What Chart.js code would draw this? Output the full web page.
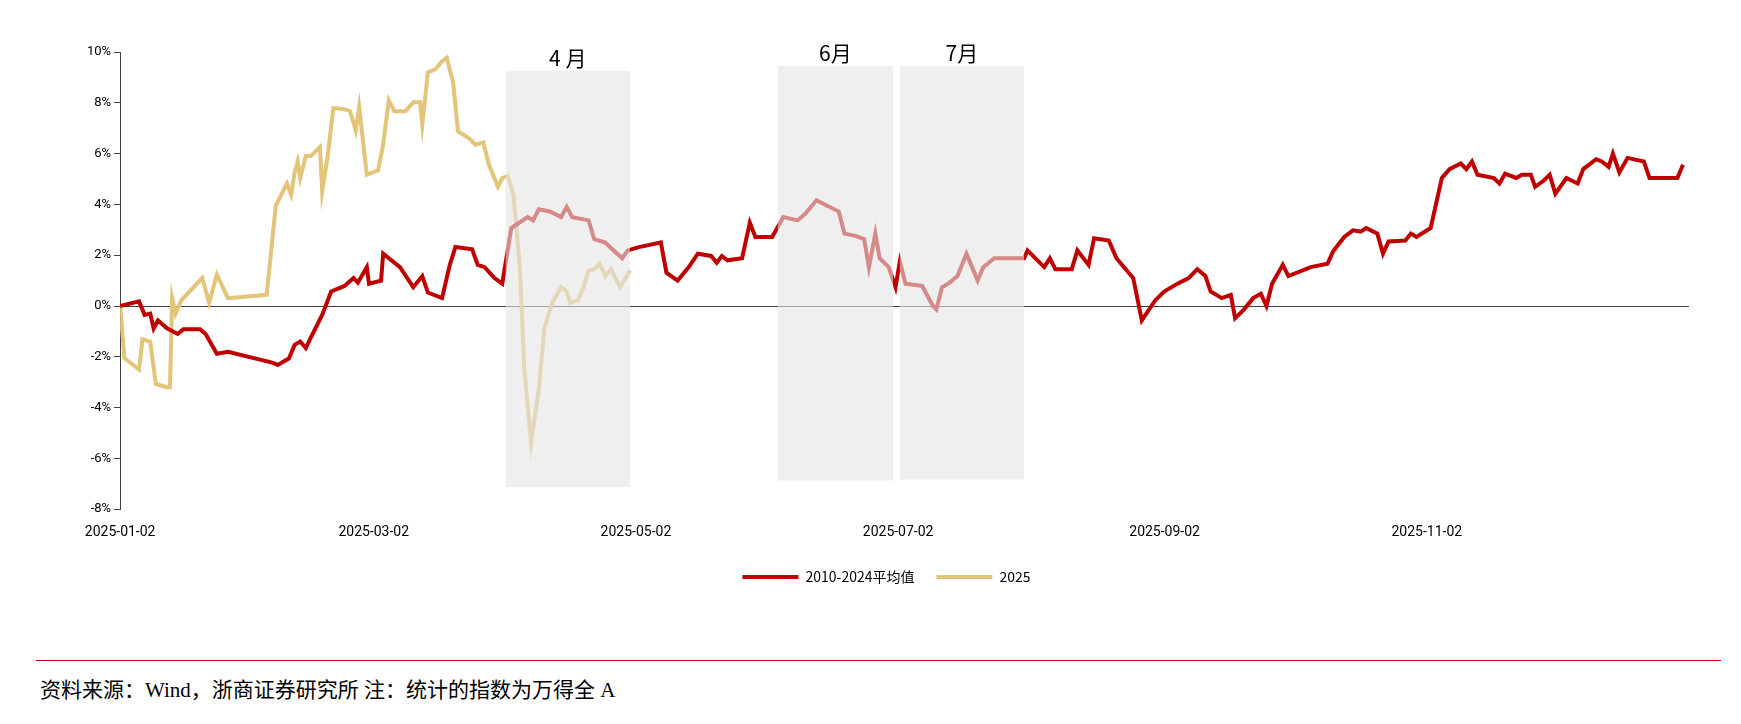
<!DOCTYPE html>
<html>
<head>
<meta charset="utf-8">
<script src="https://cdn.jsdelivr.net/npm/chart.js@4"></script>
<style>
  body { margin: 0; background: #fff; }
  #wrap { width: 1741px; height: 620px; }
  #rule { position: absolute; left: 36px; top: 660px; width: 1685px; border-top: 1.5px solid #c00000; }
  #src { position: absolute; left: 40px; top: 673px; font: 21px "Liberation Serif", "Noto Sans CJK SC", serif; color: #000; }
</style>
</head>
<body>
<div id="wrap"><canvas id="trendChart" width="1741" height="620"></canvas></div>
<div id="rule"></div>
<div id="src">资料来源：Wind，浙商证券研究所 注：统计的指数为万得全 A</div>
<script>
// x = days since 2025-01-02, y = %
var avgDays = [0,4.4,5.7,7,7.8,8.8,10.9,13.4,14.7,18.6,19.9,22.5,25.1,35.4,36.7,39.3,40.6,41.9,43.2,44.4,47,49.1,52.2,54.3,55.3,57.4,57.9,60.7,61.2,65.1,68.2,70.3,71.6,74.9,76.7,78,81.9,83.2,84.8,87.1,88.9,91,94.8,96.1,97.4,100,102.6,103.9,105.2,109,110.3,112.9,114.2,116.8,118.1,120.7,125.8,127.1,129.7,132.3,134.4,137.5,138.8,140,141.3,144.7,146.5,147.8,151.7,154.3,157.6,159.4,162,164.6,167.2,168.5,171.1,173.1,174.2,175.7,176.7,178.8,180.4,181.4,182.7,186.6,189.1,189.9,191.2,193,194.8,196.9,198.2,199.5,200.8,203.4,207.2,210.3,211.1,215,216.3,217.6,221.4,222.7,225.3,226.6,230,231.8,234.4,235.7,237.7,240.8,242.9,246,248.6,250.6,252.5,253.7,256.3,258.4,259.4,261.5,263.6,265.4,266.7,268,270.5,271.8,277,280.9,282.2,284.8,286.8,288.6,289.9,292.5,293.8,295.1,299,300.3,301.6,304.9,307.5,309.3,311.9,313.2,314.5,315.8,319.6,320.9,322.2,324.8,326.1,328.2,329.2,331.3,332.6,333.9,336.5,339.1,340.4,343.4,344.7,346.3,347.3,348.8,350.7,354.5,355.8,362.3,363.6];
var avgValues = [0,0.18,-0.35,-0.3,-0.88,-0.57,-0.88,-1.1,-0.92,-0.92,-1.1,-1.88,-1.8,-2.23,-2.32,-2.06,-1.53,-1.4,-1.66,-1.23,-0.35,0.57,0.79,1.1,0.92,1.53,0.88,1.0,2.06,1.53,0.74,1.18,0.53,0.31,1.62,2.32,2.23,1.62,1.53,1.1,0.88,3.07,3.5,3.37,3.81,3.72,3.5,3.9,3.5,3.37,2.63,2.5,2.28,1.88,2.19,2.32,2.5,1.31,1.0,1.53,2.06,1.97,1.7,1.97,1.8,1.88,3.28,2.72,2.72,3.5,3.37,3.63,4.16,3.94,3.72,2.85,2.76,2.63,1.53,2.85,1.88,1.53,0.74,1.75,0.88,0.79,0,-0.13,0.74,0.92,1.18,2.06,1.53,1.0,1.53,1.88,1.88,1.88,2.19,1.53,1.88,1.45,1.45,2.19,1.62,2.67,2.58,1.88,1.36,1.1,-0.57,0.22,0.57,0.88,1.1,1.45,1.18,0.57,0.31,0.44,-0.48,-0.13,0.31,0.48,0,0.88,1.62,1.18,1.53,1.66,2.15,2.72,2.98,2.93,3.07,2.85,2.06,2.54,2.58,2.85,2.72,3.07,5.04,5.39,5.61,5.39,5.69,5.17,5.04,4.82,5.21,5.04,5.17,5.17,4.69,4.95,5.17,4.42,5.04,4.82,5.39,5.78,5.69,5.48,6.0,5.26,5.83,5.69,5.04,5.04,5.56];
var yrDays = [0,1,4.4,5.2,7,8.3,10.9,11.6,12.1,12.9,14.2,19.1,20.7,22.5,25.1,34.1,36.2,38.8,39.8,40.6,41.3,41.9,43.2,44.4,46.5,47,48.3,49.6,52.2,53.5,54.8,55.6,57.4,60,61.2,62.5,63.8,66.4,68.2,69.8,70.3,71.6,73.4,74.9,76,77.5,78.6,81.1,82.7,84.5,85.8,87.9,88.9,90.2,91.5,93,94,95.6,97.4,98.7,100.5,102.6,103.9,104.7,106.5,107.8,109,110.3,111.6,112.9,114.2,116.3,117.6,118.6];
var yrValues = [0,-2.06,-2.5,-1.31,-1.4,-3.07,-3.2,-3.2,0.31,-0.3,0.22,1.1,0.13,1.23,0.31,0.44,3.94,4.82,4.38,5.26,5.69,5.04,5.91,5.91,6.26,4.51,5.91,7.8,7.75,7.67,6.92,7.84,5.17,5.34,6.35,8.1,7.67,7.67,8.02,8.02,7.14,9.2,9.33,9.64,9.77,8.76,6.88,6.61,6.35,6.44,5.56,4.69,5.04,5.12,4.38,1.53,-2.41,-5.39,-3.28,-0.88,0.13,0.74,0.57,0.13,0.22,0.74,1.4,1.45,1.66,1.18,1.45,0.74,1.1,1.4];
var tickDays = [0, 59, 120, 181, 243, 304];
var tickLabels = ['2025-01-02', '2025-03-02', '2025-05-02', '2025-07-02', '2025-09-02', '2025-11-02'];
var boxLabels = ['4 月', '6月', '7月'];
var boxFrom = [89.7, 153, 181.4];
var boxTo = [118.6, 179.8, 210.3];
var boxTop = [9.26, 9.45, 9.45];
var boxBottom = [-7.13, -6.87, -6.83];

function pts(xs, ys) {
  return xs.map(function(x, i) { return { x: x, y: ys[i] }; });
}

var shadePlugin = {
  id: 'shade',
  afterDatasetsDraw: function(chart) {
    var ctx = chart.ctx, xs = chart.scales.x, ys = chart.scales.y;
    ctx.save();
    for (var i = 0; i < boxLabels.length; i++) {
      var l = xs.getPixelForValue(boxFrom[i]), r = xs.getPixelForValue(boxTo[i]);
      var t = ys.getPixelForValue(boxTop[i]), b = ys.getPixelForValue(boxBottom[i]);
      ctx.fillStyle = 'rgba(228,228,228,0.6)';
      ctx.fillRect(l, t, r - l, b - t);
      ctx.fillStyle = '#000';
      ctx.font = '21px "Noto Sans CJK SC"';
      ctx.textAlign = 'center';
      ctx.textBaseline = 'bottom';
      ctx.fillText(boxLabels[i], (l + r) / 2, t - 2);
    }
    ctx.restore();
  }
};

window.onload = function() {
  var ctx = document.getElementById('trendChart').getContext('2d');
  new Chart(ctx, {
    type: 'line',
    data: {
      datasets: [
        { label: '2010-2024平均值', data: pts(avgDays, avgValues), borderColor: '#c00000', backgroundColor: '#c00000', borderWidth: 4, pointRadius: 0, tension: 0 },
        { label: '2025', data: pts(yrDays, yrValues), borderColor: '#e3c478', backgroundColor: '#e3c478', borderWidth: 4, pointRadius: 0, tension: 0 }
      ]
    },
    options: {
      responsive: false,
      animation: false,
      layout: { padding: { left: 84, right: 52, top: 52, bottom: 26 } },
      plugins: {
        tooltip: { enabled: false },
        legend: {
          position: 'bottom',
          labels: {
            boxWidth: 56, boxHeight: 0, padding: 22, color: '#000',
            font: { family: '"Noto Sans CJK SC"', size: 14 },
            generateLabels: function(chart) {
              return chart.data.datasets.map(function(d, i) {
                return { text: d.label, strokeStyle: d.borderColor, fillStyle: d.borderColor, lineWidth: 4, datasetIndex: i };
              });
            }
          }
        }
      },
      scales: {
        x: {
          type: 'linear', min: 0, max: 365,
          afterBuildTicks: function(axis) { axis.ticks = tickDays.map(function(v) { return { value: v }; }); },
          grid: { display: false },
          border: { display: false },
          ticks: {
            color: '#000', font: { family: 'Roboto', size: 14 }, maxRotation: 0, padding: 7,
            callback: function(v) { return tickLabels[tickDays.indexOf(v)]; }
          }
        },
        y: {
          min: -8, max: 10,
          ticks: { stepSize: 2, color: '#000', font: { family: 'Roboto', size: 13 }, callback: function(v) { return v + '%'; } },
          grid: {
            drawOnChartArea: true, tickLength: 6,
            color: function(c) { return c.tick && c.tick.value === 0 ? '#404040' : 'rgba(0,0,0,0)'; },
            tickColor: '#404040'
          },
          border: { display: true, color: '#404040' }
        }
      }
    },
    plugins: [shadePlugin]
  });
};
</script>
</body>
</html>
